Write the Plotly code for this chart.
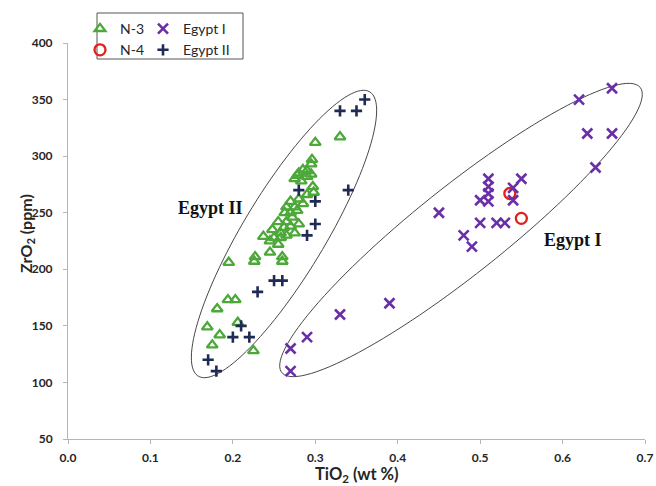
import numpy as np
import plotly.graph_objects as go

# ---------------- data ----------------
n3_x = [0.330, 0.300, 0.296, 0.295,
        0.275, 0.280, 0.285, 0.290, 0.283, 0.278, 0.290, 0.295,
        0.297, 0.298, 0.290,
        0.270, 0.265, 0.275, 0.263, 0.270, 0.278, 0.272, 0.280, 0.285,
        0.265, 0.270, 0.262, 0.255, 0.248, 0.258, 0.275, 0.280,
        0.250, 0.258, 0.265, 0.245, 0.255, 0.237,
        0.227, 0.226, 0.245, 0.260, 0.260,
        0.195, 0.194, 0.203, 0.181, 0.206, 0.169, 0.184, 0.175, 0.225]
n3_y = [317, 312, 297, 293,
        280, 285, 288, 282, 278, 283, 287, 284,
        273, 268, 266,
        260, 255, 255, 250, 250, 252, 246, 262, 258,
        242, 238, 237, 242, 235, 232, 232, 240,
        228, 228, 230, 225, 222, 229,
        211, 207, 215, 211, 207,
        206, 173, 173, 165, 153, 149, 142, 133, 128]

n4_x = [0.536, 0.550]
n4_y = [267, 245]

egypt1_x = [0.66, 0.62, 0.63, 0.66, 0.64,
            0.51, 0.55, 0.51, 0.51, 0.50, 0.51, 0.54, 0.54,
            0.50, 0.52, 0.53, 0.48, 0.49, 0.45,
            0.39, 0.33, 0.29, 0.27, 0.27]
egypt1_y = [360, 350, 320, 320, 290,
            280, 280, 273, 267, 261, 260, 272, 261,
            241, 241, 241, 230, 220, 250,
            170, 160, 140, 130, 110]

egypt2_x = [0.36, 0.35, 0.33, 0.34, 0.28, 0.30, 0.30, 0.29,
            0.25, 0.26, 0.23, 0.21, 0.20, 0.22, 0.17, 0.18]
egypt2_y = [350, 340, 340, 270, 270, 260, 240, 230,
            190, 190, 180, 150, 140, 140, 120, 110]

x_ticks = [0.0, 0.1, 0.2, 0.3, 0.4, 0.5, 0.6, 0.7]
y_ticks = [50, 100, 150, 200, 250, 300, 350, 400]

# ---------------- layout geometry ----------------
W, H = 656, 486
ML, MR, MT, MB = 68, 11, 43, 47
X_RANGE = [0, 0.7]
Y_RANGE = [50, 400]
PW = W - ML - MR
PH = H - MT - MB


def px_to_data(px, py):
    x = X_RANGE[0] + (px - ML) / PW * (X_RANGE[1] - X_RANGE[0])
    y = Y_RANGE[0] + (H - MB - py) / PH * (Y_RANGE[1] - Y_RANGE[0])
    return x, y


def px_to_paper(px, py):
    return (px - ML) / PW, (H - MB - py) / PH


def px_to_container(px, py):
    return px / W, 1 - py / H


def ellipse_path(cx, cy, a, b, ang_deg, n=120):
    t = np.linspace(0, 2 * np.pi, n)
    th = np.radians(ang_deg)
    px = cx + a * np.cos(t) * np.cos(th) - b * np.sin(t) * np.sin(th)
    py = cy - (a * np.cos(t) * np.sin(th) + b * np.sin(t) * np.cos(th))
    xs, ys = px_to_data(px, py)
    pts = [f"{x:.5f},{y:.3f}" for x, y in zip(xs, ys)]
    return "M " + " L ".join(pts) + " Z"


GREEN = "#4DA83A"
RED = "#E0201E"
PURPLE = "#6A2FA8"
NAVY = "#1F2A55"
AXIS = "#B5B5B5"
TXT = "#262626"

fig = go.Figure()
fig.add_trace(go.Scatter(x=n3_x, y=n3_y, mode="markers", name="N-3",
                         marker=dict(symbol="triangle-up-open", size=9.5, color=GREEN,
                                     line=dict(width=2.3, color=GREEN)),
                         legend="legend"))
fig.add_trace(go.Scatter(x=n4_x, y=n4_y, mode="markers", name="N-4",
                         marker=dict(symbol="circle-open", size=11, color=RED,
                                     line=dict(width=2.3, color=RED)),
                         legend="legend"))
fig.add_trace(go.Scatter(x=egypt1_x, y=egypt1_y, mode="markers", name="Egypt I",
                         marker=dict(symbol="x-thin-open", size=10, color=PURPLE,
                                     line=dict(width=2.6, color=PURPLE)),
                         legend="legend2"))
fig.add_trace(go.Scatter(x=egypt2_x, y=egypt2_y, mode="markers", name="Egypt II",
                         marker=dict(symbol="cross-thin-open", size=8, color=NAVY,
                                     line=dict(width=2.6, color=NAVY)),
                         legend="legend2"))

shapes = [
    dict(type="path", xref="x", yref="y", path=ellipse_path(284, 234, 166, 41, 58.9),
         line=dict(color="#333333", width=0.9), layer="below"),
    dict(type="path", xref="x", yref="y", path=ellipse_path(461, 230, 229, 44, 38.5),
         line=dict(color="#333333", width=0.9), layer="below"),
]
lx0, ly0 = px_to_paper(97, 13)
lx1, ly1 = px_to_paper(243, 59)
shapes.append(dict(type="rect", xref="paper", yref="paper", x0=lx0, x1=lx1, y0=ly1, y1=ly0,
                   line=dict(color="#555555", width=1), fillcolor="rgba(0,0,0,0)"))

ax2_x, ax2_y = px_to_data(210, 208)
ax1_x, ax1_y = px_to_data(573, 239.5)
xt_x, xt_y = px_to_paper(357, 474)
yt_x, yt_y = px_to_paper(26, 234)
annotations = [
    dict(x=ax2_x, y=ax2_y, text="<b>Egypt II</b>", showarrow=False,
         font=dict(family="Liberation Serif", size=18, color="#111111")),
    dict(x=ax1_x, y=ax1_y, text="<b>Egypt I</b>", showarrow=False,
         font=dict(family="Liberation Serif", size=18, color="#111111")),
    dict(xref="paper", yref="paper", x=xt_x, y=xt_y, text="<b>TiO<sub>2</sub> (wt %)</b>",
         showarrow=False, xanchor="center", yanchor="middle",
         font=dict(family="Lato", size=16.5, color=TXT)),
    dict(xref="paper", yref="paper", x=yt_x, y=yt_y, text="<b>ZrO<sub>2</sub> (ppm)</b>",
         showarrow=False, xanchor="center", yanchor="middle", textangle=-90,
         font=dict(family="Lato", size=16, color=TXT)),
]

l1x, l1y = px_to_container(80, 13)
l2x, _ = px_to_container(143, 13)
legend_common = dict(bgcolor="rgba(0,0,0,0)", borderwidth=0, yanchor="top", xanchor="left",
                     xref="container", yref="container",
                     font=dict(family="Lato", size=14, color=TXT), tracegroupgap=0,
                     itemwidth=30)

fig.update_layout(
    width=W, height=H,
    margin=dict(l=ML, r=MR, t=MT, b=MB, autoexpand=False),
    paper_bgcolor="white", plot_bgcolor="white",
    font=dict(family="Lato", color=TXT),
    showlegend=True,
    legend=dict(x=l1x, y=l1y, **legend_common),
    legend2=dict(x=l2x, y=l1y, **legend_common),
    xaxis=dict(range=X_RANGE, tickvals=x_ticks, ticktext=[f"{v:.1f}" for v in x_ticks],
               showgrid=False, zeroline=False, showline=True, linecolor=AXIS, linewidth=1,
               ticks="outside", ticklen=4, tickcolor=AXIS,
               tickfont=dict(family="Lato", size=12, color=TXT, weight="bold"),
               ticklabelstandoff=4),
    yaxis=dict(range=Y_RANGE, tickvals=y_ticks,
               showgrid=False, zeroline=False, showline=True, linecolor=AXIS, linewidth=1,
               ticks="outside", ticklen=4, tickcolor=AXIS,
               tickfont=dict(family="Lato", size=12, color=TXT, weight="bold"),
               ticklabelstandoff=8),
    shapes=shapes,
    annotations=annotations,
)

fig.write_html("out.html", config={"displayModeBar": False},
               post_script="document.body.style.margin='0';")
